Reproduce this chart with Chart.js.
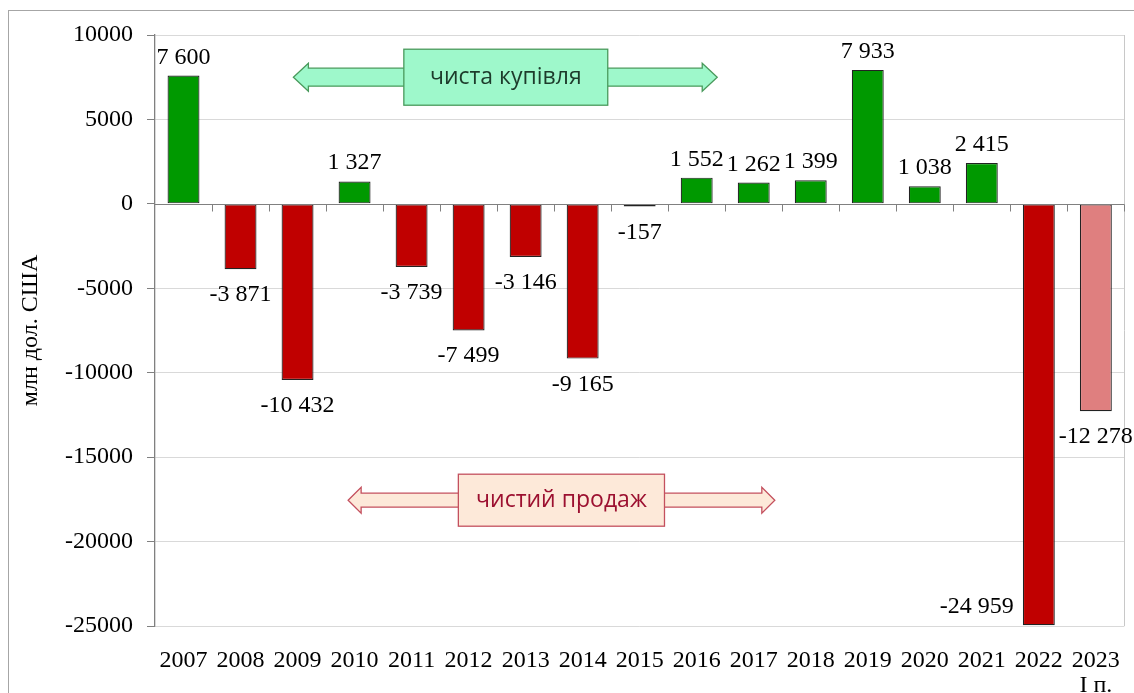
<!DOCTYPE html>
<html><head><meta charset="utf-8">
<script src="https://cdn.jsdelivr.net/npm/chart.js@4.4.1/dist/chart.umd.min.js"></script>
<style>html,body{margin:0;padding:0;background:#fff;overflow:hidden}</style>
</head><body>
<canvas id="c" width="1134" height="693"></canvas>
<script>
// ---- data ----
const years = ['2007','2008','2009','2010','2011','2012','2013','2014','2015','2016','2017','2018','2019','2020','2021','2022',['2023','I п.']];
const values = [7600,-3871,-10432,1327,-3739,-7499,-3146,-9165,-157,1552,1262,1399,7933,1038,2415,-24959,-12278];
const partialYear = [false,false,false,false,false,false,false,false,false,false,false,false,false,false,false,false,true];
const yMin = -25000, yMax = 10000, yStep = 5000;
const yTitle = 'млн дол. США';
const annotationTexts = ['чиста купівля', 'чистий продаж'];

// ---- styles ----
const SERIF = "'Liberation Serif','Times New Roman',serif";
const annStyles = [
  {text: annotationTexts[0], yVal: 7500, tipL: 1.927, tipR: 9.36, boxL: 3.864, boxR: 7.44, boxH: 56, shaft: 18, head: 28, headL: 15,
   fill: '#9ef8cb', stroke: '#4a9a5c', color: '#1d3b2b'},
  {text: annotationTexts[1], yVal: -17550, tipL: 2.887, tipR: 10.37, boxL: 4.82, boxR: 8.435, boxH: 52, shaft: 14, head: 26, headL: 13,
   fill: '#fde9d9', stroke: '#c4505e', color: '#9c1030'}
];

function fmt(v){
  const s = String(Math.abs(v)).replace(/\B(?=(\d{3})+(?!\d))/g, ' ');
  return (v < 0 ? '-' : '') + s;
}

const framePlugin = {
  id: 'frame',
  beforeDraw(chart){
    const ctx = chart.ctx;
    ctx.save();
    ctx.fillStyle = '#fff';
    ctx.fillRect(0,0,chart.width,chart.height);
    ctx.strokeStyle = '#a6a6a6';
    ctx.lineWidth = 1;
    ctx.strokeRect(8.5, 10.5, chart.width + 20, chart.height + 20);
    ctx.restore();
  },
  afterDatasetsDraw(chart){
    const ctx = chart.ctx, xs = chart.scales.x, ys = chart.scales.y, ca = chart.chartArea;
    ctx.save();
    // right border of plot area
    ctx.strokeStyle = '#c8c8c8'; ctx.lineWidth = 1;
    ctx.beginPath(); ctx.moveTo(Math.round(ca.right)+0.5, ca.top); ctx.lineTo(Math.round(ca.right)+0.5, ca.bottom); ctx.stroke();
    // zero axis line with category ticks
    const zy = Math.round(ys.getPixelForValue(0)) + 0.5;
    ctx.strokeStyle = '#808080'; ctx.lineWidth = 1;
    ctx.beginPath(); ctx.moveTo(ca.left, zy); ctx.lineTo(ca.right, zy); ctx.stroke();
    const step = xs.getPixelForValue(1) - xs.getPixelForValue(0);
    for (let i = 1; i <= years.length; i++){
      const x = Math.round(xs.getPixelForValue(0) - step/2 + i*step) + 0.5;
      ctx.beginPath(); ctx.moveTo(x, zy); ctx.lineTo(x, zy + 7); ctx.stroke();
    }
    // data labels
    const meta = chart.getDatasetMeta(0);
    ctx.font = '24px ' + SERIF;
    ctx.fillStyle = '#000';
    meta.data.forEach((bar, i) => {
      const v = values[i], t = fmt(v);
      const p = bar.getProps(['x','y','width'], true);
      ctx.textBaseline = 'alphabetic';
      if (v >= 0){
        ctx.textAlign = 'center';
        ctx.fillText(t, p.x, p.y - 12);
      } else if (p.y + 34 > ca.bottom){
        ctx.textAlign = 'right';
        ctx.fillText(t, p.x - p.width/2 - 9, p.y - 12);
      } else {
        ctx.textAlign = 'center';
        ctx.fillText(t, p.x, p.y + 32);
      }
    });
    // annotations (double arrows with boxes)
    const px = (f) => xs.getPixelForValue(0) + f*step;
    annStyles.forEach(a => {
      const yc = ys.getPixelForValue(a.yVal);
      const xL = px(a.tipL), xR = px(a.tipR);
      ctx.beginPath();
      ctx.moveTo(xL, yc);
      ctx.lineTo(xL + a.headL, yc - a.head/2);
      ctx.lineTo(xL + a.headL, yc - a.shaft/2);
      ctx.lineTo(xR - a.headL, yc - a.shaft/2);
      ctx.lineTo(xR - a.headL, yc - a.head/2);
      ctx.lineTo(xR, yc);
      ctx.lineTo(xR - a.headL, yc + a.head/2);
      ctx.lineTo(xR - a.headL, yc + a.shaft/2);
      ctx.lineTo(xL + a.headL, yc + a.shaft/2);
      ctx.lineTo(xL + a.headL, yc + a.head/2);
      ctx.closePath();
      ctx.fillStyle = a.fill; ctx.fill();
      ctx.strokeStyle = a.stroke; ctx.lineWidth = 1.3; ctx.stroke();
      const bL = px(a.boxL), bR = px(a.boxR);
      ctx.fillStyle = a.fill;
      ctx.fillRect(bL, yc - a.boxH/2, bR - bL, a.boxH);
      ctx.strokeRect(bL, yc - a.boxH/2, bR - bL, a.boxH);
      ctx.fillStyle = a.color;
      ctx.font = "23px 'Open Sans', sans-serif";
      ctx.textAlign = 'center'; ctx.textBaseline = 'middle';
      ctx.fillText(a.text, (bL + bR)/2, yc);
    });
    ctx.restore();
  }
};

new Chart(document.getElementById('c'), {
  type: 'bar',
  data: {
    labels: years,
    datasets: [{
      data: values,
      backgroundColor: (c) => partialYear[c.dataIndex] ? '#df7f7f' : (values[c.dataIndex] >= 0 ? '#009900' : '#c00000'),
      borderColor: '#222222',
      borderWidth: 1.2,
      borderSkipped: false,
      barPercentage: 0.56,
      categoryPercentage: 1.0
    }]
  },
  options: {
    responsive: false,
    animation: false,
    devicePixelRatio: 1,
    layout: {padding: {left: 0, right: 5, top: 35, bottom: 0}},
    plugins: {legend: {display: false}, tooltip: {enabled: false}},
    scales: {
      x: {
        grid: {display: false},
        border: {display: false},
        ticks: {color: '#000', font: {family: SERIF, size: 24, lineHeight: 1.05}, padding: 14, maxRotation: 0, autoSkip: false},
        afterFit(s){ s.height = 67; }
      },
      y: {
        min: yMin, max: yMax,
        ticks: {stepSize: yStep, color: '#000', font: {family: SERIF, size: 24}, padding: 14,
                callback: (v) => String(v)},
        grid: {color: (c) => c.tick && c.tick.value === 0 ? 'rgba(0,0,0,0)' : '#d9d9d9', tickColor: '#808080', tickLength: 8, lineWidth: 1},
        border: {color: '#808080', width: 1.3},
        title: {display: true, text: yTitle, color: '#000', font: {family: SERIF, size: 24}, padding: {top: 16, bottom: 0}},
        afterFit(s){ s.width = 155; }
      }
    }
  },
  plugins: [framePlugin]
});
</script>
</body></html>
